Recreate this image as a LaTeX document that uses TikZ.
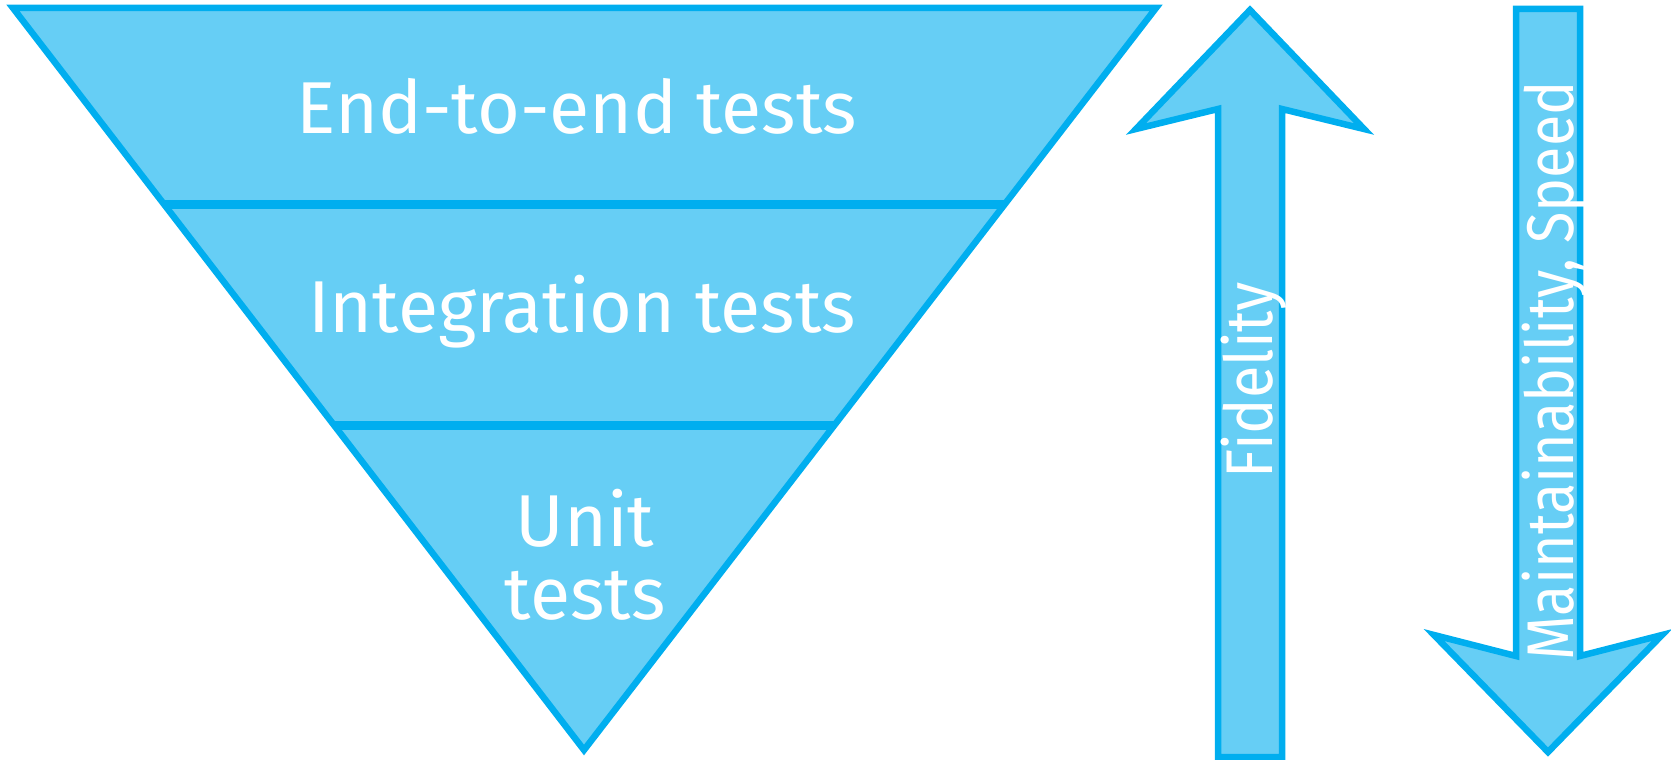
\documentclass[tikz,border=0pt]{standalone}
\usepackage{fontspec}
\setmainfont{Fira Sans}
\newfontfamily\narrowfira{Fira Sans}[FakeStretch=0.87]
\newfontfamily\fidfira{Fira Sans}[FakeStretch=0.9]
\usetikzlibrary{calc}
\definecolor{edgeblue}{RGB}{0,174,239}
\definecolor{bandfill}{RGB}{102,206,245}
\begin{document}
\begin{tikzpicture}[x=1pt,y=-1pt,
  shapebox/.style={draw=edgeblue,fill=bandfill,line width=6.5pt,line join=miter,miter limit=20},
  sepline/.style={draw=edgeblue,line width=9pt},
  lbl/.style={text=white,font=\fontsize{73.5}{73}\selectfont,inner sep=0pt,anchor=base},
  albl/.style={text=white,inner sep=0pt,rotate=90,anchor=base}]
\useasboundingbox (0,0) rectangle (1671,760);
% pyramid
\coordinate (tl) at (13,8);
\coordinate (tr) at (1156,8);
\coordinate (tip) at (584,750);
\draw[shapebox] (tl) -- (tr) -- (tip) -- cycle;
\coordinate (s1l) at ($(tl)!0.2642!(tip)$);
\coordinate (s1r) at ($(tr)!0.2642!(tip)$);
\coordinate (s2l) at ($(tl)!0.562!(tip)$);
\coordinate (s2r) at ($(tr)!0.562!(tip)$);
\draw[sepline] (s1l) -- (s1r);
\draw[sepline] (s2l) -- (s2r);
\node[lbl] (e2e) at (577,133) {End-to-end tests};
\node[lbl] (integ) at (582,332) {Integration tests};
\node[lbl,anchor=center,align=center] (unit) at (585,555) {Unit\\tests};
% up arrow
\coordinate (ua1) at (1250,10);
\coordinate (ua2) at (1364,129);
\coordinate (ua3) at (1282,109);
\coordinate (ua4) at (1282,757);
\coordinate (ua5) at (1218,757);
\coordinate (ua6) at (1218,109);
\coordinate (ua7) at (1136,129);
\draw[shapebox] (ua1) -- (ua2) -- (ua3) -- (ua4) -- (ua5) -- (ua6) -- (ua7) -- cycle;
\node[albl,font=\fidfira\fontsize{66}{76}\selectfont] (fid) at (1272,380) {Fidelity};
% down arrow
\coordinate (da1) at (1516,9);
\coordinate (da2) at (1580,9);
\coordinate (da3) at (1580,656);
\coordinate (da4) at (1662,635);
\coordinate (da5) at (1548,752);
\coordinate (da6) at (1434,635);
\coordinate (da7) at (1516,656);
\draw[shapebox] (da1) -- (da2) -- (da3) -- (da4) -- (da5) -- (da6) -- (da7) -- cycle;
\node[albl,font=\narrowfira\fontsize{66}{76}\selectfont] (maint) at (1573,371) {Maintainability, Speed};
\end{tikzpicture}
\end{document}
